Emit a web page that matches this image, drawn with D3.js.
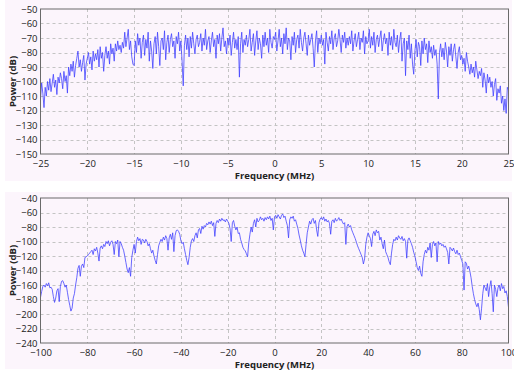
<!DOCTYPE html>
<html><head><meta charset="utf-8">
<script src="https://cdn.jsdelivr.net/npm/d3@7"></script>
<style>body{margin:0;background:#fff;}svg{display:block;}</style>
</head><body>
<svg id="c" width="514" height="373"></svg>
<script>
// ---- data ----
const topXStart = -25, topXStep = 0.125;
const topPower = [
-112,-101,-108,-118,-104,-110,-100,-106,
-98,-107,-101,-95,-104,-99,-109,-97,
-101,-94,-98,-105,-93,-100,-96,-108,
-90,-96,-88,-93,-86,-97,-89,-84,
-79,-90,-85,-93,-87,-82,-99,-88,
-84,-80,-88,-83,-92,-79,-86,-81,
-85,-78,-90,-76,-84,-80,-93,-82,
-76,-84,-79,-88,-74,-81,-77,-86,
-74,-79,-72,-78,-75,-80,-73,-77,
-66,-76,-70,-64,-78,-72,-83,-88,
-89,-72,-80,-67,-75,-70,-84,-73,
-68,-82,-71,-77,-66,-86,-72,-79,
-91,-74,-69,-81,-66,-76,-89,-72,
-70,-78,-65,-85,-73,-68,-80,-71,
-67,-76,-72,-84,-69,-74,-66,-79,
-72,-86,-103,-75,-68,-78,-70,-83,
-69,-77,-66,-74,-81,-71,-68,-76,
-73,-67,-79,-70,-75,-64,-78,-72,
-69,-80,-72,-66,-76,-71,-84,-68,
-74,-67,-79,-70,-63,-76,-72,-81,
-70,-75,-68,-82,-73,-66,-77,-71,
-78,-69,-97,-74,-66,-80,-71,-75,
-68,-76,-71,-64,-79,-73,-67,-82,
-72,-65,-78,-70,-74,-84,-68,-76,
-66,-75,-70,-80,-64,-73,-77,-69,
-71,-66,-79,-72,-64,-76,-70,-81,
-67,-74,-63,-78,-70,-72,-85,-69,
-75,-66,-80,-71,-68,-77,-64,-73,
-79,-70,-66,-74,-82,-68,-75,-71,
-67,-77,-90,-72,-65,-80,-70,-74,
-68,-75,-71,-88,-66,-73,-79,-69,
-74,-65,-78,-70,-67,-76,-72,-64,
-71,-80,-68,-73,-66,-77,-70,-75,
-69,-74,-65,-79,-72,-67,-76,-71,
-66,-78,-70,-73,-65,-81,-69,-74,
-72,-64,-77,-69,-75,-66,-80,-71,
-68,-76,-70,-65,-79,-72,-67,-74,
-70,-82,-66,-75,-69,-78,-64,-73,
-76,-68,-80,-71,-66,-86,-74,-70,
-96,-72,-78,-68,-84,-74,-88,-95,
-79,-71,-83,-73,-76,-89,-72,-81,
-70,-78,-74,-87,-72,-80,-76,-84,
-75,-82,-78,-88,-112,-80,-74,-83,
-77,-85,-73,-79,-90,-76,-82,-74,
-86,-78,-74,-83,-91,-80,-76,-85,
-82,-88,-84,-93,-80,-86,-90,-95,
-88,-94,-90,-97,-86,-92,-98,-93,
-96,-91,-104,-94,-99,-108,-95,-101,
-97,-104,-100,-110,-102,-98,-113,-105,
-108,-103,-115,-110,-120,-112,-122,-104,
-106
];
const botXStart = -100, botXStep = 0.5;
const botPower = [
-177,-169,-162,-160,-163,-158,-161,-157,-164,-163,-166,-176,-184,-178,-168,-165,-183,-162,-155,-154,
-158,-163,-160,-170,-180,-188,-196,-192,-178,-172,-160,-150,-137,-133,-148,-134,-131,-136,-122,-121,
-120,-118,-116,-114,-112,-118,-110,-113,-108,-116,-127,-109,-106,-110,-104,-107,-100,-103,-99,-106,
-101,-99,-104,-118,-100,-103,-98,-121,-100,-103,-108,-112,-120,-129,-138,-143,-136,-148,-122,-112,
-104,-116,-100,-94,-99,-96,-104,-97,-98,-102,-97,-100,-106,-103,-110,-116,-112,-120,-126,-131,
-118,-106,-101,-97,-100,-94,-98,-92,-96,-112,-95,-90,-97,-88,-114,-92,-85,-84,-86,-90,
-99,-103,-101,-110,-118,-126,-132,-122,-108,-99,-96,-100,-92,-88,-95,-84,-82,-89,-79,-83,
-78,-80,-75,-77,-73,-76,-72,-78,-74,-93,-75,-71,-74,-69,-72,-68,-71,-70,-73,-69,
-72,-75,-82,-100,-74,-71,-79,-84,-80,-89,-88,-97,-102,-108,-111,-113,-117,-121,-102,-90,
-80,-87,-75,-70,-80,-68,-73,-71,-66,-70,-68,-72,-67,-70,-66,-69,-65,-71,-68,-84,
-66,-64,-68,-63,-66,-69,-64,-62,-67,-65,-72,-78,-95,-70,-66,-68,-65,-72,-70,-76,
-82,-91,-98,-106,-112,-116,-121,-104,-88,-80,-72,-76,-70,-68,-75,-71,-84,-93,-74,-69,
-67,-70,-66,-72,-69,-73,-71,-75,-90,-72,-70,-74,-68,-72,-70,-67,-71,-69,-73,-76,
-74,-104,-79,-76,-80,-78,-84,-88,-92,-96,-101,-106,-110,-114,-118,-122,-131,-124,-104,-94,
-88,-92,-96,-107,-90,-86,-92,-84,-88,-86,-98,-94,-103,-110,-98,-114,-118,-122,-128,-132,
-116,-104,-97,-99,-94,-98,-92,-95,-97,-93,-99,-96,-100,-123,-98,-95,-99,-103,-108,-115,
-120,-128,-136,-140,-134,-144,-148,-128,-118,-112,-116,-108,-112,-102,-122,-104,-100,-106,-102,-128,
-100,-104,-102,-106,-104,-108,-106,-110,-115,-131,-108,-110,-113,-109,-114,-117,-112,-118,-116,-121,
-126,-131,-167,-128,-130,-138,-134,-141,-150,-162,-172,-180,-186,-190,-185,-194,-208,-192,-172,-160,
-164,-168,-158,-176,-162,-154,-172,-197,-160,-166,-176,-164,-160,-168,-158,-165,-162,-171,-168,-176,
-191
];
const topXTicks = [-25,-20,-15,-10,-5,0,5,10,15,20,25];
const topYTicks = [-50,-60,-70,-80,-90,-100,-110,-120,-130,-140,-150];
const botXTicks = [-100,-80,-60,-40,-20,0,20,40,60,80,100];
const botYTicks = [-40,-60,-80,-100,-120,-140,-160,-180,-200,-220,-240];
const xTitle = "Frequency (MHz)";
const yTitle = "Power (dB)";

// ---- drawing ----
const svg = d3.select("#c");
const font = "'Open Sans','Noto Sans',sans-serif";

function panel(cfg){
  const {bgY, bgH, top, bottom, xDom, yDom, xTicks, yTicks, xs, step, vals} = cfg;
  const left = 40.5, right = 508.5;
  svg.append("rect").attr("x",5).attr("y",bgY).attr("width",507).attr("height",bgH).attr("fill","#fcf5fc");
  const x = d3.scaleLinear().domain(xDom).range([left,right]);
  const y = d3.scaleLinear().domain(yDom).range([bottom,top]);
  const g = svg.append("g");
  // grid
  g.selectAll(".gx").data(xTicks.slice(1,-1)).join("line")
    .attr("x1",d=>Math.round(x(d))+0.5).attr("x2",d=>Math.round(x(d))+0.5)
    .attr("y1",top).attr("y2",bottom)
    .attr("stroke","#c4c4c4").attr("stroke-dasharray","3,3");
  g.selectAll(".gy").data(yTicks.slice(1,-1)).join("line")
    .attr("y1",d=>Math.round(y(d))+0.5).attr("y2",d=>Math.round(y(d))+0.5)
    .attr("x1",left).attr("x2",right)
    .attr("stroke","#c4c4c4").attr("stroke-dasharray","3,3");
  // line
  const pts = vals.map((v,i)=>[xs + i*step, v]);
  g.append("path").datum(pts)
    .attr("d", d3.line().x(d=>x(d[0])).y(d=>y(d[1])))
    .attr("fill","none").attr("stroke","#3f3fff").attr("stroke-opacity",0.82).attr("stroke-width",0.95);
  // frame
  g.append("rect").attr("x",left).attr("y",top).attr("width",right-left).attr("height",bottom-top)
    .attr("fill","none").attr("stroke","#6a6a6a").attr("stroke-width",1);
  // axes labels
  const ax = svg.append("g").attr("transform",`translate(0,${bottom})`)
    .call(d3.axisBottom(x).tickValues(xTicks).tickSize(0).tickPadding(6).tickFormat(d3.format("d")));
  const ay = svg.append("g").attr("transform",`translate(${left},0)`)
    .call(d3.axisLeft(y).tickValues(yTicks).tickSize(0).tickPadding(3).tickFormat(d3.format("d")));
  [ax,ay].forEach(a=>{
    a.select(".domain").remove();
    a.selectAll("text").attr("font-family",font).attr("font-size",9.5).attr("fill","#222");
  });
  svg.append("text").attr("x",(left+right)/2).attr("y",bottom+25)
    .attr("text-anchor","middle").attr("font-family",font).attr("font-size",9.5)
    .attr("font-weight","bold").attr("fill","#222").text(xTitle);
  svg.append("text").attr("transform",`translate(16,${(top+bottom)/2}) rotate(-90)`)
    .attr("text-anchor","middle").attr("font-family",font).attr("font-size",9.5)
    .attr("font-weight","bold").attr("fill","#222").text(yTitle);
}

panel({bgY:0,bgH:181,top:9,bottom:154,xDom:[-25,25],yDom:[-150,-50],
  xTicks:topXTicks,yTicks:topYTicks,xs:topXStart,step:topXStep,vals:topPower});
panel({bgY:192,bgH:177,top:198,bottom:343,xDom:[-100,100],yDom:[-240,-40],
  xTicks:botXTicks,yTicks:botYTicks,xs:botXStart,step:botXStep,vals:botPower});
</script>
</body></html>
